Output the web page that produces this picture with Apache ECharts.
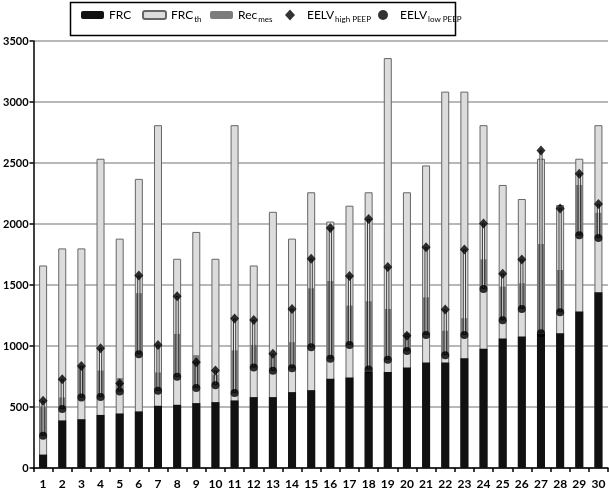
<!DOCTYPE html>
<html>
<head>
<meta charset="utf-8">
<script src="https://cdn.jsdelivr.net/npm/echarts@6/dist/echarts.min.js"></script>
<style>html,body{margin:0;padding:0;background:#fff;}#c{width:609px;height:490px;}</style>
</head>
<body>
<div id="c"></div>
<script>
var categories = ['1','2','3','4','5','6','7','8','9','10','11','12','13','14','15','16','17','18','19','20','21','22','23','24','25','26','27','28','29','30'];
var frc = [110,390,400,435,447,464,510,518,532,540,554,581,581,622,638,731,742,786,786,824,865,865,900,977,1061,1078,1099,1105,1282,1440];
var frcTh = [1660,1800,1800,2535,1880,2370,2810,1715,1935,1715,2810,1660,2100,1880,2260,2020,2150,2260,3360,2260,2480,3085,3085,2810,2320,2205,2535,2155,2535,2810];
var recMes = [240,95,255,218,110,500,150,352,270,85,350,185,120,213,483,638,322,560,417,150,308,200,137,242,276,210,731,346,412,207];
var eelvHigh = [551,728,837,982,693,1577,1009,1408,867,799,1225,1214,936,1304,1716,1967,1574,2041,1648,1083,1809,1299,1792,2005,1593,1708,2603,2128,2412,2163];
var eelvLow = [265,483,578,581,627,933,633,747,655,679,614,824,797,818,990,895,1009,807,887,958,1091,925,1091,1468,1211,1304,1105,1277,1907,1885];
var yTicks = {min: 0, max: 3500, interval: 500};

var rangeSpan = eelvHigh.map(function(h, i){ return h - eelvLow[i]; });

var FONT = 'Lato';
var chart = echarts.init(document.getElementById('c'), null, {renderer: 'canvas'});

function hiddenX(){
  return {type: 'category', data: categories, show: false, gridIndex: 0};
}
var rich = {
  m: {fontSize: 12, fontFamily: FONT, color: '#000', lineHeight: 16},
  e: {fontSize: 12, fontFamily: FONT, color: '#000', lineHeight: 16, padding: [0,0,0,7]},
  s: {fontSize: 8, fontFamily: FONT, color: '#000', verticalAlign: 'bottom', padding: [0,0,0,1]}
};
function fmt(name){
  if (name === 'FRC') return '{m|FRC}';
  if (name === 'FRCth') return '{m|FRC}{s|th}';
  if (name === 'Recmes') return '{m|Rec}{s|mes}';
  if (name === 'EELVhigh') return '{e|EELV}{s|high PEEP}';
  if (name === 'EELVlow') return '{e|EELV}{s|low PEEP}';
  return name;
}
function leg(name, left, w, h){
  return {left: left, top: 4, itemWidth: w, itemHeight: h, data: [name], formatter: fmt,
          textStyle: {rich: rich}, selectedMode: false};
}

var option = {
  animation: false,
  backgroundColor: '#fff',
  grid: {left: 32, right: 1, top: 41, bottom: 22, containLabel: false},
  graphic: [{
    type: 'rect', left: 68, top: 0, silent: true,
    shape: {x: 0, y: 0, width: 385, height: 33},
    style: {fill: 'none', stroke: '#000', lineWidth: 1.5}
  }],
  legend: [
    leg('FRC', 76, 23, 8),
    leg('FRCth', 137, 23, 8),
    leg('Recmes', 205, 23, 8),
    leg('EELVhigh', 280, 10, 11),
    leg('EELVlow', 373, 10, 10)
  ],
  xAxis: [{
    type: 'category', data: categories, gridIndex: 0,
    axisLine: {lineStyle: {color: '#000', width: 1.5}},
    axisTick: {show: true, length: 4, lineStyle: {color: '#000', width: 1.5}},
    axisLabel: {color: '#000', fontFamily: FONT, fontWeight: 'bold', fontSize: 12, margin: 10, interval: 0}
  }, hiddenX(), hiddenX(), hiddenX()],
  yAxis: {
    type: 'value', min: yTicks.min, max: yTicks.max, interval: yTicks.interval,
    axisLine: {show: true, lineStyle: {color: '#000', width: 1.5}},
    axisTick: {show: true, length: 4, lineStyle: {color: '#000', width: 1.5}},
    axisLabel: {color: '#000', fontFamily: FONT, fontWeight: 'bold', fontSize: 11, margin: 5,
      formatter: function(v){ return String(v); }},
    splitLine: {show: true, lineStyle: {color: '#a0a0a0', width: 1.5}}
  },
  series: [
    {name: 'FRCth', type: 'bar', xAxisIndex: 0, barWidth: 8, data: frcTh,
     itemStyle: {color: '#dcdcdc', borderColor: '#666666', borderWidth: 1}},
    {name: 'FRC', type: 'bar', xAxisIndex: 1, barWidth: 8, data: frc,
     itemStyle: {color: '#111111'}},
    {name: 'recBase', type: 'bar', xAxisIndex: 2, barWidth: 7, stack: 'rec', data: eelvLow,
     itemStyle: {color: 'rgba(0,0,0,0)'}, silent: true},
    {name: 'Recmes', type: 'bar', xAxisIndex: 2, barWidth: 7, stack: 'rec', data: recMes,
     itemStyle: {color: '#7c7c7c'}},
    {name: 'rangeBase', type: 'bar', xAxisIndex: 3, barWidth: 3, stack: 'rng', data: eelvLow,
     itemStyle: {color: 'rgba(0,0,0,0)'}, silent: true},
    {name: 'range', type: 'bar', xAxisIndex: 3, barWidth: 3, stack: 'rng', data: rangeSpan,
     itemStyle: {color: 'rgba(255,255,255,0.55)', borderColor: '#111', borderWidth: 0.8}, silent: true},
    {name: 'EELVhigh', type: 'scatter', xAxisIndex: 0, symbol: 'diamond', symbolSize: [9, 10],
     data: eelvHigh, itemStyle: {color: '#000'}, z: 5},
    {name: 'EELVlow', type: 'scatter', xAxisIndex: 0, symbol: 'circle', symbolSize: 8,
     data: eelvLow, itemStyle: {color: '#000'}, z: 5}
  ]
};
chart.setOption(option);
</script>
</body>
</html>
